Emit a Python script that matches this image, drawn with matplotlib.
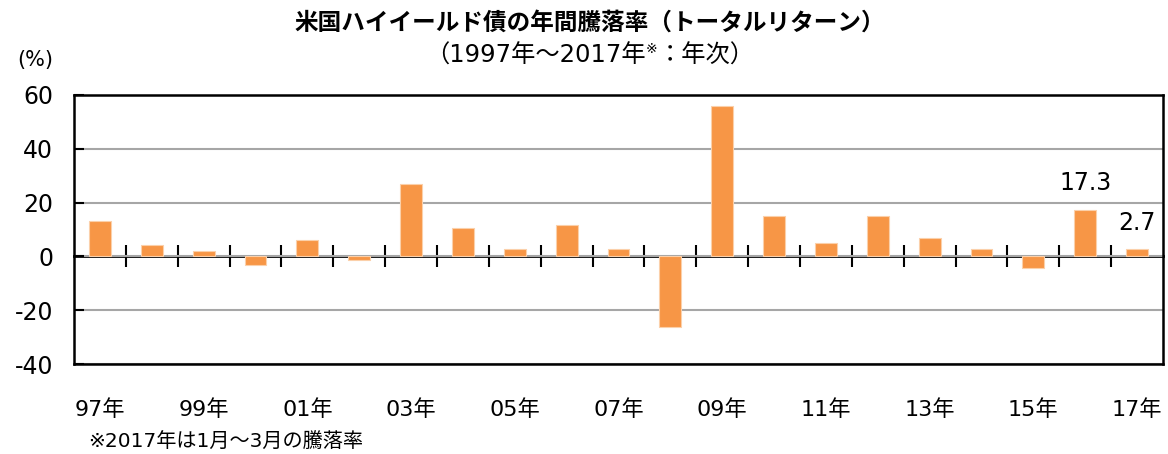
import numpy as np
import matplotlib
matplotlib.use('Agg')
import matplotlib.pyplot as plt
from matplotlib.ticker import FixedLocator

plt.rcParams['font.family'] = ['DejaVu Sans', 'Noto Sans CJK JP']
plt.rcParams['axes.unicode_minus'] = False

# 年次騰落率 (%)
years = ['97年', '98年', '99年', '00年', '01年', '02年', '03年', '04年', '05年', '06年', '07年',
         '08年', '09年', '10年', '11年', '12年', '13年', '14年', '15年', '16年', '17年']
returns = [13.0, 4.1, 1.9, -3.3, 6.2, -1.2, 26.9, 10.7, 2.6, 11.5, 2.6,
           -26.4, 55.9, 15.2, 4.8, 15.2, 7.0, 2.6, -4.2, 17.3, 2.7]
labeled = {19: '17.3', 20: '2.7'}

fig = plt.figure(figsize=(11.68, 4.54), dpi=100)
ax = fig.add_axes([74/1168, 1 - 364/454, (1163 - 74)/1168, (364 - 95)/454])

x = np.arange(len(years))
ax.bar(x, returns, width=0.42, color='#F79646', edgecolor='#FBD0AA', linewidth=0.8, zorder=3)

ax.set_xlim(-0.5, len(years) - 0.5)
ax.set_ylim(-40, 60)
ax.set_yticks([-40, -20, 0, 20, 40, 60])
ax.yaxis.grid(True, color='#A6A6A6', lw=1.5, zorder=0)
ax.tick_params(axis='y', labelsize=17, length=7, width=1.5, direction='in', pad=15)

# カテゴリ名は下に、2年おき
ax.set_xticks(x[::2])
ax.set_xticklabels(years[::2])
ax.tick_params(axis='x', labelsize=16, length=0, pad=25)

for s in ax.spines.values():
    s.set_linewidth(1.8)
    s.set_color('black')

# ゼロ線と区切り目盛
sec = ax.secondary_xaxis(40 / 100)
sec.spines['bottom'].set_linewidth(2)
sec.xaxis.set_major_locator(FixedLocator(x[:-1] + 0.5))
sec.tick_params(axis='x', direction='inout', length=16, width=1.5, labelbottom=False)

for i, t in labeled.items():
    ax.annotate(t, (i, returns[i]), xytext=(0, 11 if i == 19 else 10), textcoords='offset points',
                ha='center', va='bottom', fontsize=17)

fig.text(0.505, 0.951, '米国ハイイールド債の年間騰落率（トータルリターン）', ha='center', va='center',
         fontsize=17, fontweight='bold')

# サブタイトル（※は上付き）
renderer = fig.canvas.get_renderer()
parts = [('（1997年～2017年', 17.5, 0), ('※', 10, 7), ('：年次）', 17.5, 0)]
ys = 1 - 56/454
texts = []
xpos = 0
for s, fs, dy in parts:
    t = fig.text(0, ys, s, ha='left', va='center', fontsize=fs)
    w = t.get_window_extent(renderer).width
    texts.append((t, xpos, dy))
    xpos += w
x0 = 590 - xpos / 2
for t, off, dy in texts:
    t.set_position(((x0 + off) / 1168, ys + dy / 454))

fig.text(35/1168, 1 - 60/454, '(%)', ha='center', va='center', fontsize=15)
fig.text(88/1168, 1 - 442/454, '※2017年は1月～3月の騰落率', ha='left', va='center', fontsize=14.5)

fig.savefig('out.png', dpi=100)
